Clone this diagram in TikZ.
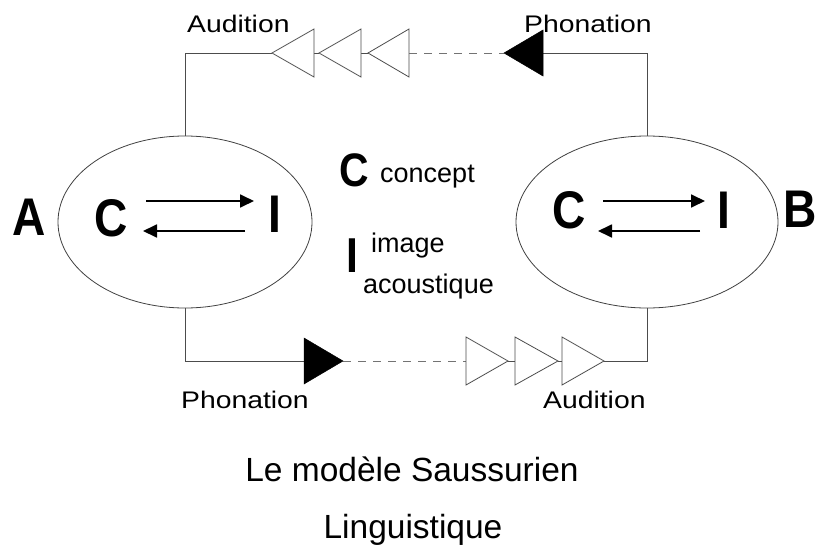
\documentclass[tikz,border=0pt]{standalone}
\usepackage{fontspec}
\setmainfont{Liberation Sans}
\newfontfamily\widefont[FakeStretch=1.18]{Liberation Sans}
\newfontfamily\bigfont[FakeStretch=0.87]{Liberation Sans}
\usetikzlibrary{shapes.geometric,arrows.meta}
\begin{document}
\begin{tikzpicture}[x=1pt,y=-1pt,
  conn/.style={draw=black!70,line width=0.9pt},
  dashconn/.style={draw=black!55,line width=0.9pt,dash pattern=on 8pt off 7pt},
  hollow/.style={draw=black!70,line width=0.8pt,fill=white,line join=miter},
  solidtri/.style={fill=black,draw=black,line width=0.5pt},
  mind/.style={draw=black!75,line width=0.8pt,ellipse,inner sep=0pt},
  lbl/.style={inner sep=0pt,anchor=base west,font=\widefont\fontsize{24}{28}\selectfont},
  big/.style={inner sep=0pt,anchor=base west,font=\bigfont\bfseries\fontsize{53}{60}\selectfont},
  small/.style={inner sep=0pt,anchor=base west,font=\fontsize{27}{30}\selectfont},
  inner/.style={line width=1.8pt,-{Triangle[length=14pt,width=13pt]}},
  title/.style={inner sep=0pt,anchor=base,font=\fontsize{33.5}{38}\selectfont}]
\useasboundingbox (0,0) rectangle (817,546);

% minds
\node[mind,minimum width=254pt,minimum height=172pt] (A) at (185,222) {};
\node[mind,minimum width=262pt,minimum height=172pt] (B) at (647,222) {};

% corner coordinates
\coordinate (tl) at (185,53);
\coordinate (tr) at (647,53);
\coordinate (bl) at (185,361);
\coordinate (br) at (647,361);

% top connector (B -> A)
\coordinate (t1) at (272,53);
\coordinate (t1b) at (314,53);
\coordinate (t2) at (319,53);
\coordinate (t2b) at (361,53);
\coordinate (t3) at (368,53);
\coordinate (t3b) at (409,53);
\coordinate (tf) at (504,53);
\coordinate (tfb) at (543,53);
\draw[conn] (A.north) -- (tl) -- (t1);
\draw[conn] (t1b) -- (t2);
\draw[conn] (t2b) -- (t3);
\draw[dashconn] (t3b) -- (tf);
\draw[conn] (tfb) -- (tr) -- (B.north);
\draw[hollow] (t1) -- ([yshift=-24pt]t1b) -- ([yshift=24pt]t1b) -- cycle;
\draw[hollow] (t2) -- ([yshift=-24pt]t2b) -- ([yshift=24pt]t2b) -- cycle;
\draw[hollow] (t3) -- ([yshift=-24pt]t3b) -- ([yshift=24pt]t3b) -- cycle;
\draw[solidtri] (tf) -- ([yshift=-23pt]tfb) -- ([yshift=23pt]tfb) -- cycle;

% bottom connector (A -> B)
\coordinate (bf) at (304,361);
\coordinate (bft) at (343,361);
\coordinate (b1) at (466,361);
\coordinate (b1t) at (508,361);
\coordinate (b2) at (515,361);
\coordinate (b2t) at (558,361);
\coordinate (b3) at (562,361);
\coordinate (b3t) at (604,361);
\draw[conn] (A.south) -- (bl) -- (bf);
\draw[dashconn] (bft) -- (b1);
\draw[conn] (b1t) -- (b2);
\draw[conn] (b2t) -- (b3);
\draw[conn] (b3t) -- (br) -- (B.south);
\draw[solidtri] (bft) -- ([yshift=-23pt]bf) -- ([yshift=23pt]bf) -- cycle;
\draw[hollow] (b1t) -- ([yshift=-24pt]b1) -- ([yshift=24pt]b1) -- cycle;
\draw[hollow] (b2t) -- ([yshift=-24pt]b2) -- ([yshift=24pt]b2) -- cycle;
\draw[hollow] (b3t) -- ([yshift=-24pt]b3) -- ([yshift=24pt]b3) -- cycle;

% labels
\node[lbl] (audTop) at (187,32) {Audition};
\node[lbl] (phoTop) at (524,32) {Phonation};
\node[lbl] (phoBot) at (181,408) {Phonation};
\node[lbl] (audBot) at (543,408) {Audition};

% big letters
\node[big] (la) at (12,235) {A};
\node[big] (lc) at (94,236) {C};
\node[big] (li) at (268,232) {I};
\node[big] (rc) at (552,228) {C};
\node[big] (ri) at (717,228) {I};
\node[big] (rb) at (783,227) {B};

% inner arrows
\coordinate (lu1) at (146,201); \coordinate (lu2) at (254,201);
\coordinate (ll1) at (245,231); \coordinate (ll2) at (143,231);
\coordinate (ru1) at (603,201); \coordinate (ru2) at (705,201);
\coordinate (rl1) at (700,231); \coordinate (rl2) at (598,231);
\draw[inner] (lu1) -- (lu2);
\draw[inner] (ll1) -- (ll2);
\draw[inner] (ru1) -- (ru2);
\draw[inner] (rl1) -- (rl2);

% legend
\node[big,font=\bigfont\bfseries\fontsize{47}{52}\selectfont] (kc) at (339,186) {C};
\node[small] (kconcept) at (380,182) {concept};
\node[big,font=\bigfont\bfseries\fontsize{49}{54}\selectfont] (ki) at (346,272) {I};
\node[small] (kimage) at (371,252) {image};
\node[small] (kac) at (363,293) {acoustique};

% title
\node[title] (t1n) at (412,481) {Le modèle Saussurien};
\node[title] (t2n) at (413,538) {Linguistique};
\end{tikzpicture}
\end{document}
